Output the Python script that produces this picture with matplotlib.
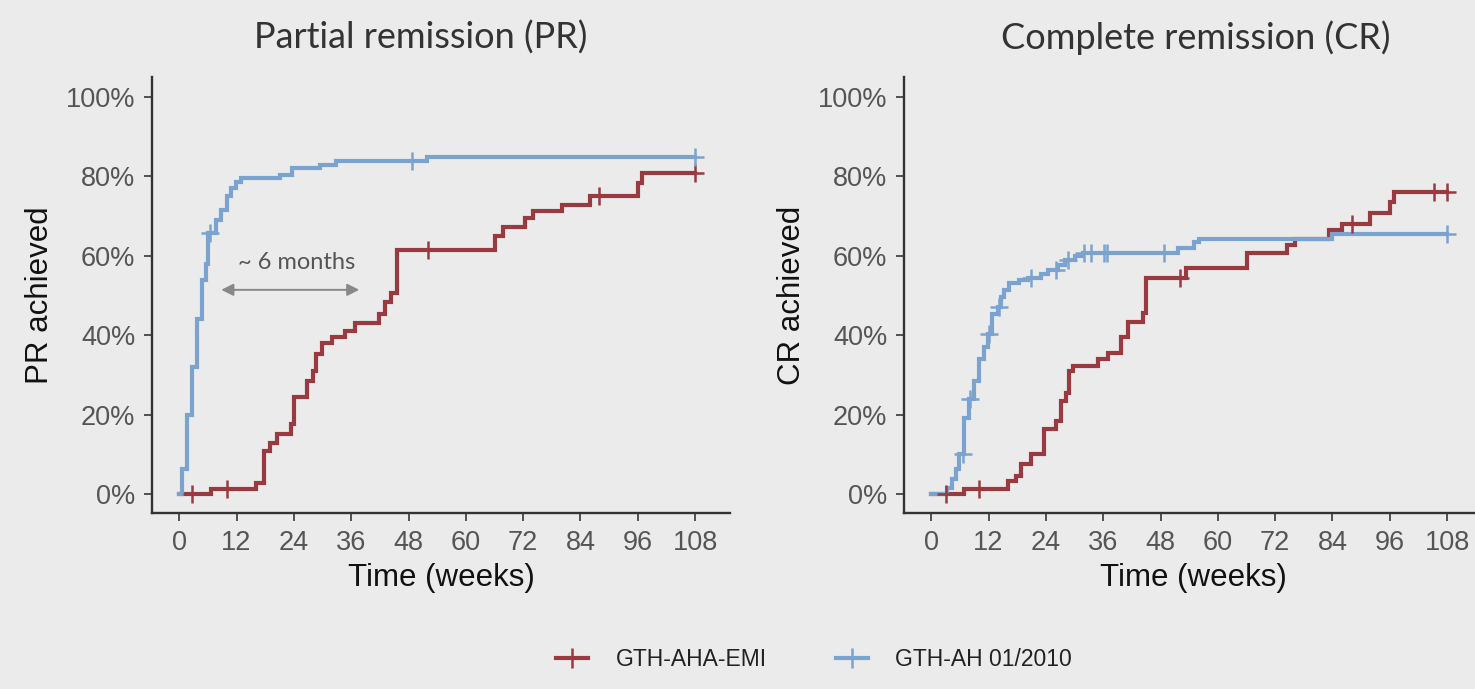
import numpy as np
import matplotlib
matplotlib.use("Agg")
import matplotlib.pyplot as plt
from matplotlib.lines import Line2D

# ---------------- data ----------------
pr_emi_t = [0, 6.6, 16.1, 17.8, 18.9, 20.5, 23.5, 24.1, 26.8, 27.9, 28.7, 29.8, 31.9, 34.6,
            36.7, 41.9, 43.0, 44.4, 45.5, 66.0, 67.7, 72.3, 74.0, 80.1, 86.0, 96.0, 96.9]
pr_emi_v = [0, 1.2, 2.8, 10.8, 12.9, 15.0, 17.6, 24.3, 28.5, 31.0, 35.3, 37.9, 39.5, 41.0,
            43.0, 45.4, 48.3, 50.5, 61.4, 65.0, 67.2, 69.4, 71.2, 72.7, 75.0, 78.3, 80.8]
pr_emi_cens = [2.7, 10.1, 52.0, 87.8, 108.0]

pr_ah_t = [0, 0.6, 1.7, 2.7, 3.8, 4.8, 5.5, 6.0, 7.8, 8.8, 9.9, 10.9, 11.9, 13.0, 21.0,
           23.7, 29.4, 32.9, 51.8]
pr_ah_v = [0, 6.3, 20.0, 32.0, 44.0, 54.0, 58.0, 65.6, 69.0, 71.5, 75.0, 77.0, 78.5, 79.5,
           80.3, 82.0, 82.8, 83.8, 84.8]
pr_ah_cens = [6.4, 48.8, 108.0]

cr_emi_t = [0, 6.9, 16.0, 17.7, 18.8, 20.9, 23.7, 26.1, 27.2, 28.2, 28.9, 29.6, 34.9, 37.0,
            39.8, 41.2, 44.3, 45.0, 53.4, 66.0, 74.4, 76.2, 83.2, 86.0, 91.9, 96.1, 96.8]
cr_emi_v = [0, 1.2, 3.3, 4.5, 7.5, 10.0, 16.3, 18.4, 23.4, 25.5, 31.0, 32.3, 34.0, 35.6,
            39.4, 43.2, 45.5, 54.3, 57.0, 60.6, 62.6, 64.3, 66.4, 68.0, 70.7, 73.5, 76.0]
cr_emi_cens = [3.0, 10.0, 52.0, 88.1, 105.2, 108.0]

cr_ah_t = [0, 3.4, 4.4, 5.1, 5.8, 6.9, 7.9, 9.0, 10.0, 11.0, 11.8, 12.8, 13.9, 14.6, 15.3,
           16.3, 18.4, 20.2, 23.0, 24.4, 26.5, 27.9, 30.0, 31.7, 51.7, 55.1, 56.0, 83.9]
cr_ah_v = [0, 1.5, 3.8, 6.3, 10.0, 19.0, 24.0, 28.5, 34.0, 37.0, 40.4, 45.4, 47.0, 49.5,
           51.3, 53.0, 53.8, 54.5, 55.5, 56.3, 57.6, 58.8, 60.0, 60.6, 62.0, 63.5, 64.3, 65.4]
cr_ah_cens = [6.6, 8.2, 12.0, 14.2, 20.9, 26.2, 28.6, 32.0, 33.4, 36.2, 36.9, 48.8, 108.0]

groups = ["GTH-AHA-EMI", "GTH-AH 01/2010"]
x_ticks = [0, 12, 24, 36, 48, 60, 72, 84, 96, 108]
y_ticks = [0, 20, 40, 60, 80, 100]
y_ticklabels = ["0%", "20%", "40%", "60%", "80%", "100%"]
t_end = 108.0

RED = "#983A3F"
BLUE = "#7BA3CF"
BG = "#EBEBEB"

W, H = 1475, 689
fig = plt.figure(figsize=(W / 100, H / 100), dpi=100, facecolor=BG)

def px_ax(l, r, t, b):
    return [l / W, 1 - b / H, (r - l) / W, (b - t) / H]

def draw_km(ax, t, v, cens, color):
    tt = list(t) + [t_end]
    vv = list(v) + [v[-1]]
    ax.step(tt, vv, where="post", color=color, lw=3.0, solid_joinstyle="miter", zorder=3)
    idx = np.searchsorted(np.asarray(t), np.asarray(cens), side="right") - 1
    cy = np.asarray(v)[idx]
    ax.plot(cens, cy, ls="none", marker="+", ms=13, mew=1.8, color=color, zorder=4)

def style(ax, ylabel):
    ax.set_facecolor(BG)
    ax.set_xlim(-5.7, 115.3)
    ax.set_ylim(-4.8, 105)
    ax.set_xticks(x_ticks)
    ax.set_xticklabels([str(x) for x in x_ticks])
    ax.set_yticks(y_ticks)
    ax.set_yticklabels(y_ticklabels)
    for s in ["top", "right"]:
        ax.spines[s].set_visible(False)
    for s in ["left", "bottom"]:
        ax.spines[s].set_linewidth(1.7)
        ax.spines[s].set_color("#333333")
    ax.tick_params(axis="both", direction="out", length=6, width=1.3, color="#444444",
                   labelsize=19.5, labelcolor="#555555", pad=6)
    for lab in ax.get_xticklabels() + ax.get_yticklabels():
        lab.set_fontfamily("Liberation Sans")
    ax.set_xlabel("Time (weeks)", fontsize=22.5, family="Liberation Sans", color="#111111",
                  labelpad=5)
    ax.set_ylabel(ylabel, fontsize=22.5, family="Liberation Sans", color="#111111", labelpad=8)

ax1 = fig.add_axes(px_ax(152, 730, 77, 513))
ax2 = fig.add_axes(px_ax(904, 1482, 77, 513))

draw_km(ax1, pr_emi_t, pr_emi_v, pr_emi_cens, RED)
draw_km(ax1, pr_ah_t, pr_ah_v, pr_ah_cens, BLUE)
draw_km(ax2, cr_emi_t, cr_emi_v, cr_emi_cens, RED)
draw_km(ax2, cr_ah_t, cr_ah_v, cr_ah_cens, BLUE)

style(ax1, "PR achieved")
style(ax2, "CR achieved")

# annotation in left panel
ax1.annotate("", xy=(8.8, 51.4), xytext=(37.7, 51.4),
             arrowprops=dict(arrowstyle="<|-|>", color="#888888", lw=1.4,
                             mutation_scale=18, shrinkA=0, shrinkB=0), zorder=5)
ax1.text(24.5, 58.4, "~ 6 months", ha="center", va="center", fontsize=17,
         family="Lato", color="#555555")

# titles
fig.text(421 / W, 1 - 38 / H, "Partial remission (PR)", ha="center", va="center",
         fontsize=26, family="Lato", color="#333333")
fig.text(1196 / W, 1 - 38 / H, "Complete remission (CR)", ha="center", va="center",
         fontsize=26, family="Lato", color="#333333")

# legend
handles = [Line2D([0], [0], color=RED, lw=3.0, marker="+", ms=14, mew=1.8),
           Line2D([0], [0], color=BLUE, lw=3.0, marker="+", ms=14, mew=1.8)]
leg = fig.legend(handles, groups, loc="center", bbox_to_anchor=(814 / W, 1 - 660 / H),
                 ncol=2, frameon=False, handlelength=1.4, handletextpad=1.2,
                 columnspacing=3.0, prop={"family": "Liberation Sans", "size": 16.5})
for txt in leg.get_texts():
    txt.set_color("#222222")

fig.savefig("out.png", dpi=100, facecolor=BG)
